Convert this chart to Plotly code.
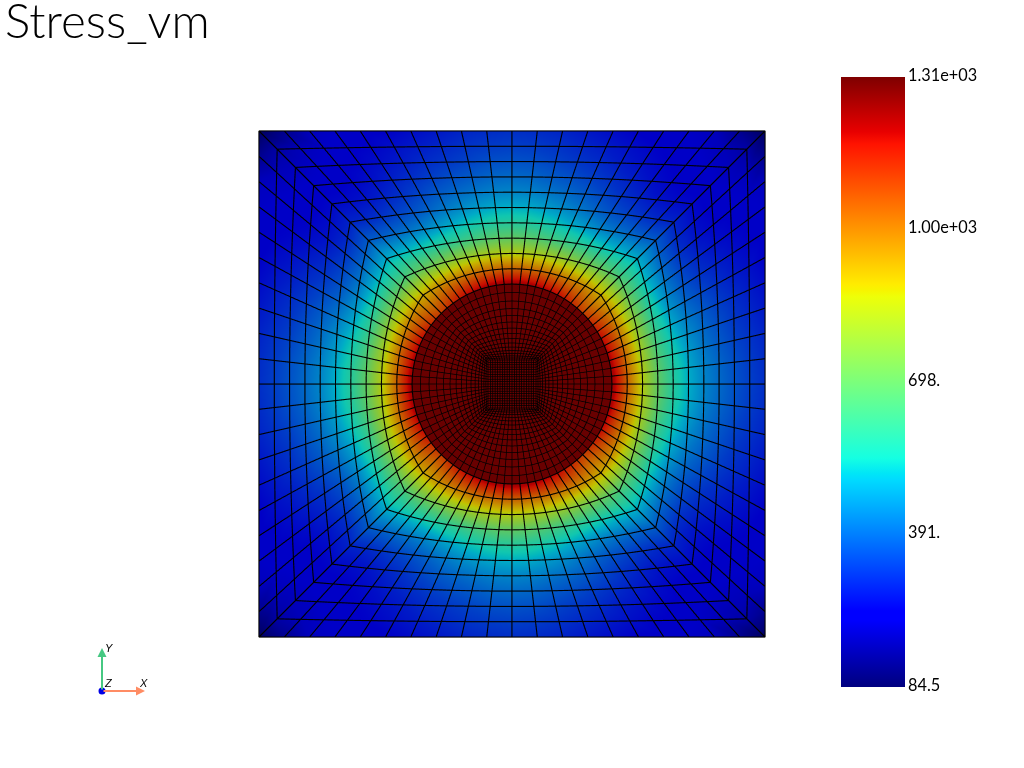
import math
import plotly.graph_objects as go

TITLE = "Stress_vm"
CMIN, CMAX = 84.5, 1310.0
TICK_VALUES = [84.5, 391.0, 697.0, 1004.0, 1310.0]
TICK_LABELS = ["84.5", "391.", "698.", "1.00e+03", "1.31e+03"]

# nodal stress of the outer block, one octant: row = ring from the hole outward,
# column = sector from the axis (0) to the diagonal (10)
RING_00 = [1240, 1240, 1230, 1225, 1212, 1200, 1188, 1163, 1138, 1114, 1095]
RING_01 = [1040, 1040, 1028, 1028, 1016, 1004, 991, 979, 967, 942, 918]
RING_02 = [844, 844, 832, 820, 801, 783, 758, 734, 710, 685, 648]
RING_03 = [697, 691, 673, 648, 623, 599, 574, 550, 530, 515, 501]
RING_04 = [587, 581, 562, 538, 507, 477, 446, 422, 403, 385, 379]
RING_05 = [507, 501, 483, 458, 428, 397, 366, 342, 317, 299, 293]
RING_06 = [446, 440, 422, 403, 379, 348, 317, 293, 268, 256, 250]
RING_07 = [403, 397, 379, 360, 336, 311, 287, 262, 244, 232, 225]
RING_08 = [366, 360, 342, 323, 305, 281, 262, 244, 232, 219, 207]
RING_09 = [336, 330, 317, 299, 281, 262, 244, 232, 219, 201, 176]
RING_10 = [311, 305, 293, 274, 256, 238, 232, 219, 207, 146, 84.5]
OUTER_STRESS = [RING_00, RING_01, RING_02, RING_03, RING_04, RING_05,
                RING_06, RING_07, RING_08, RING_09, RING_10]
CORE_STRESS = 1300.0

# mesh geometry, half width of the block = 1
HOLE_RADIUS = 0.395
CORE_HALF = 0.095
CORE_RING_AXIS = [0.395, 0.362, 0.328, 0.298, 0.271, 0.245, 0.221, 0.200, 0.180,
                  0.162, 0.146, 0.132, 0.121, 0.111, 0.103, 0.095]
SECTORS = 80
OUTER_RINGS = 10
CORE_CELLS = 20

LINE_WIDTH = 2.2
INNER_LINE_WIDTH = 1.5
LIT = 0.78
EYE_Z = 2.0
SCENE_SCALE = 1.318

W, H = 1024, 768


def fx(px):
    return px / W


def fy(py):
    return 1 - py / H


JET = [[0.0, "rgb(0,0,127)"], [0.11, "rgb(0,0,255)"], [0.125, "rgb(0,0,255)"],
       [0.34, "rgb(0,219,255)"], [0.35, "rgb(0,230,247)"], [0.375, "rgb(21,255,226)"],
       [0.64, "rgb(238,255,8)"], [0.65, "rgb(247,245,0)"], [0.66, "rgb(255,236,0)"],
       [0.89, "rgb(255,19,0)"], [0.91, "rgb(232,0,0)"], [1.0, "rgb(127,0,0)"]]


def square_point(k, half):
    k = k % SECTORS
    if k <= 10 or k > 70:
        s = k if k <= 10 else k - SECTORS
        return half, half * s / 10
    if k <= 30:
        return half * (1 - (k - 10) / 10), half
    if k <= 50:
        return -half, half * (1 - (k - 30) / 10)
    return half * (-1 + (k - 50) / 10), -half


def circle_point(k, radius):
    a = 2 * math.pi * k / SECTORS
    return radius * math.cos(a), radius * math.sin(a)


def blend(k, f, r, h):
    cx, cy = circle_point(k, r)
    sx, sy = square_point(k, h)
    return cx + (sx - cx) * f, cy + (sy - cy) * f


X, Y, V, I, J, K = [], [], [], [], [], []


def add_patch(grid, values):
    """grid[a][b] -> (x, y); quads are split in two triangles"""
    base = len(X)
    na, nb = len(grid), len(grid[0])
    for a in range(na):
        for b in range(nb):
            X.append(grid[a][b][0])
            Y.append(grid[a][b][1])
            V.append(values[a][b])
    for a in range(na - 1):
        for b in range(nb - 1):
            p = base + a * nb + b
            q = p + 1
            r = p + nb
            s = r + 1
            I.extend([p, p])
            J.extend([q, s])
            K.extend([s, r])


sec = list(range(SECTORS + 1))


def fold(k):
    d = k % 20
    return min(d, 20 - d)


outer_grid = [[blend(k, i / OUTER_RINGS, HOLE_RADIUS, 1.0) for k in sec] for i in range(OUTER_RINGS + 1)]
outer_vals = [[OUTER_STRESS[i][fold(k)] for k in sec] for i in range(OUTER_RINGS + 1)]
add_patch(outer_grid, outer_vals)

span = HOLE_RADIUS - CORE_HALF
core_fracs = [(HOLE_RADIUS - r) / span for r in CORE_RING_AXIS]
ring_grid = [[blend(k, f, HOLE_RADIUS, CORE_HALF) for k in sec] for f in core_fracs]
add_patch(ring_grid, [[CORE_STRESS] * len(sec) for _ in core_fracs])

axis_pts = [-CORE_HALF + 2 * CORE_HALF * n / CORE_CELLS for n in range(CORE_CELLS + 1)]
core_grid = [[(x, y) for x in axis_pts] for y in axis_pts]
add_patch(core_grid, [[CORE_STRESS] * len(axis_pts) for _ in axis_pts])


def polyline(store_x, store_y, pts):
    for p in pts:
        store_x.append(p[0])
        store_y.append(p[1])
    store_x.append(None)
    store_y.append(None)


def grid_lines(grids):
    xs, ys = [], []
    for grid in grids:
        for row in grid:
            polyline(xs, ys, row)
        for b in range(len(grid[0])):
            polyline(xs, ys, [row[b] for row in grid])
    return xs, ys


fig = go.Figure()
fig.add_trace(go.Mesh3d(
    x=X, y=Y, z=[0.0] * len(X), i=I, j=J, k=K,
    intensity=V, intensitymode="vertex", colorscale=JET, cmin=CMIN, cmax=CMAX,
    flatshading=False, hoverinfo="skip",
    lighting=dict(ambient=LIT, diffuse=0, specular=0, roughness=1, fresnel=0),
    colorbar=dict(x=fx(841), xanchor="left", xpad=0, y=fy(77), yanchor="top", ypad=0,
                  lenmode="pixels", len=610, thicknessmode="pixels", thickness=64,
                  outlinewidth=0, borderwidth=0, showticklabels=False, ticks="",
                  tickvals=TICK_VALUES),
))
for grids, width in (([outer_grid], LINE_WIDTH), ([ring_grid, core_grid], INNER_LINE_WIDTH)):
    lx, ly = grid_lines(grids)
    fig.add_trace(go.Scatter3d(
        x=lx, y=ly, z=[None if v is None else 0.002 for v in lx], mode="lines",
        line=dict(color="black", width=width), hoverinfo="skip", showlegend=False,
    ))

FONT = "Lato"
annotations = [dict(text=TITLE, x=fx(3), y=fy(19), xref="paper", yref="paper",
                    xanchor="left", yanchor="middle", showarrow=False,
                    font=dict(family=FONT, size=47.5, weight=300, color="black"))]
for val, lab in zip(TICK_VALUES, TICK_LABELS):
    frac = (val - CMIN) / (CMAX - CMIN)
    py = 687 - frac * 610 - 2.5
    annotations.append(dict(text=lab, x=fx(906), y=fy(py), xref="paper", yref="paper",
                            xanchor="left", yanchor="middle", showarrow=False,
                            font=dict(family=FONT, size=16.3, color="black")))
# orientation marker
annotations += [
    dict(x=fx(145), y=fy(691), xref="paper", yref="paper", ax=-43, ay=0, axref="pixel", ayref="pixel",
         text="", showarrow=True, arrowcolor="rgb(255,140,100)", arrowwidth=2, arrowhead=2, arrowsize=0.9),
    dict(x=fx(102), y=fy(648), xref="paper", yref="paper", ax=0, ay=43, axref="pixel", ayref="pixel",
         text="", showarrow=True, arrowcolor="rgb(70,200,130)", arrowwidth=2, arrowhead=2, arrowsize=0.9),
]
for txt, px, py in (("X", 143, 683), ("Y", 109, 648), ("Z", 108, 683)):
    annotations.append(dict(text="<i>%s</i>" % txt, x=fx(px), y=fy(py), xref="paper", yref="paper",
                            xanchor="center", yanchor="middle",
                            showarrow=False, font=dict(family="Liberation Sans", size=11, color="black")))

axis_off = dict(visible=False, showgrid=False, zeroline=False, showticklabels=False, showspikes=False)
fig.update_layout(
    width=W, height=H, margin=dict(l=0, r=0, t=0, b=0), showlegend=False,
    paper_bgcolor="white", annotations=annotations,
    shapes=[dict(type="circle", xref="paper", yref="paper", x0=fx(98.5), x1=fx(105.5),
                 y0=fy(694.5), y1=fy(687.5), fillcolor="rgb(0,0,230)", line_width=0, layer="above")],
    scene=dict(
        domain=dict(x=[0, 1], y=[0, 1]), bgcolor="white",
        xaxis=dict(range=[-1, 1], **axis_off), yaxis=dict(range=[-1, 1], **axis_off), zaxis=dict(range=[-1, 1], **axis_off),
        aspectmode="manual", aspectratio=dict(x=SCENE_SCALE, y=SCENE_SCALE, z=0.05),
        camera=dict(projection=dict(type="orthographic"), eye=dict(x=0, y=0, z=EYE_Z),
                    up=dict(x=0, y=1, z=0), center=dict(x=0, y=0, z=0)),
    ),
)
fig.write_html("out.html", config=dict(displayModeBar=False),
               post_script="document.body.style.margin='0';document.documentElement.style.overflow='hidden';")
